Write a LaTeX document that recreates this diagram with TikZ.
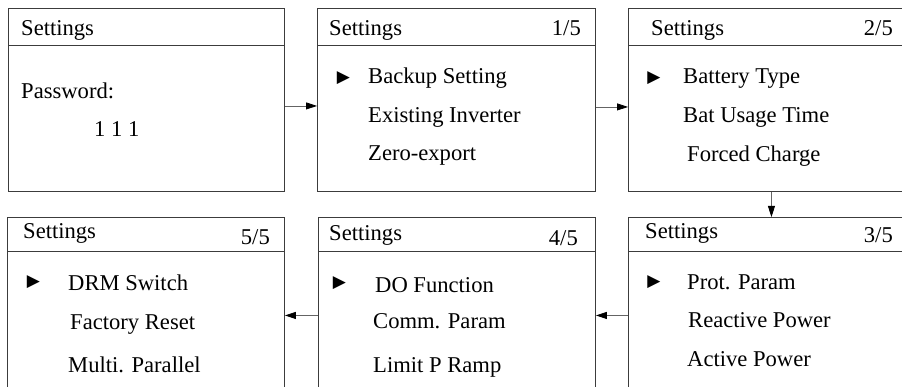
\documentclass[tikz,border=0pt]{standalone}
\usepackage{fontspec}
\setmainfont{Liberation Serif}
\newfontfamily\markfont{DejaVu Sans}
\usepackage{tikz}
\usetikzlibrary{positioning, arrows.meta, calc}
\definecolor{framegray}{RGB}{60,60,60}
\definecolor{linkgray}{RGB}{100,100,100}
\tikzset{
  screen/.style={
    draw=framegray, line width=0.9pt, fill=white,
    anchor=north west, inner sep=0pt
  },
  toprow/.style={screen, minimum height=183pt},
  lowrow/.style={screen, minimum height=196pt},
  label/.style={anchor=base west, inner sep=0pt, font=\fontsize{22.6}{27}\selectfont},
  pagenum/.style={anchor=base east, inner sep=0pt, font=\fontsize{22.6}{27}\selectfont},
  pointer/.style={inner sep=0pt, font=\markfont\fontsize{17}{20}\selectfont},
  link/.style={-{Triangle[length=11pt, width=7pt, color=black]}, line width=0.8pt, linkgray}
}

\begin{document}
\begin{tikzpicture}[x=1pt, y=1pt]
  \useasboundingbox (0,0) rectangle (902,386);
  % upper row
  \node[toprow, minimum width=276pt] (pw) at (8,378) {};
  \node[toprow, minimum width=278pt] (s1) at (317,378) {};
  \node[toprow, minimum width=286pt] (s2) at (628,378) {};
  % lower row
  \node[lowrow, minimum width=286pt] (s3) at (628,169) {};
  \node[lowrow, minimum width=277pt] (s4) at (318,169) {};
  \node[lowrow, minimum width=277pt] (s5) at (7,169) {};
  % title bars
  \foreach \s in {pw, s1, s2}
    \draw[framegray, line width=0.9pt] ($(\s.north west)+(0,-37)$) -- ($(\s.north east)+(0,-37)$);
  \foreach \s in {s3, s4, s5}
    \draw[framegray, line width=0.9pt] ($(\s.north west)+(0,-34)$) -- ($(\s.north east)+(0,-34)$);

  % password screen
  \node[label] (pwtitle) at (21,350) {Settings};
  \node[label] (pwtext) at (21,287) {Password:};
  \node[label] (pwcode) at (94,249) {1 1 1};

  % 1/5
  \node[label] (t1) at (329,350) {Settings};
  \node[pagenum] (n1) at (581,350) {1/5};
  \node[pointer] (p1) at (343.5,308) {▶};
  \node[label] (a1) at (368,302) {Backup Setting};
  \node[label] (b1) at (368,263) {Existing Inverter};
  \node[label] (c1) at (368,225) {Zero-export};

  % 2/5
  \node[label] (t2) at (651,350) {Settings};
  \node[pagenum] (n2) at (893,350) {2/5};
  \node[pointer] (p2) at (654,308) {▶};
  \node[label] (a2) at (683,302) {Battery Type};
  \node[label] (b2) at (683,263) {Bat Usage Time};
  \node[label] (c2) at (687,224) {Forced Charge};

  % 3/5
  \node[label] (t3) at (645,147) {Settings};
  \node[pagenum] (n3) at (893,143) {3/5};
  \node[pointer] (p3) at (654,104) {▶};
  \node[label] (a3) at (687,97) {Prot. Param};
  \node[label] (b3) at (688,59) {Reactive Power};
  \node[label] (c3) at (687,20) {Active Power};

  % 4/5
  \node[label] (t4) at (329,146) {Settings};
  \node[pagenum] (n4) at (578,141) {4/5};
  \node[pointer] (p4) at (339.5,103) {▶};
  \node[label] (a4) at (375,94) {DO Function};
  \node[label] (b4) at (373,58) {Comm. Param};
  \node[label] (c4) at (373,14) {Limit P Ramp};

  % 5/5
  \node[label] (t5) at (23,147) {Settings};
  \node[pagenum] (n5) at (270,142) {5/5};
  \node[pointer] (p5) at (33.5,104) {▶};
  \node[label] (a5) at (68,96) {DRM Switch};
  \node[label] (b5) at (70,57) {Factory Reset};
  \node[label] (c5) at (68,14) {Multi. Parallel};

  % links
  \draw[link] ([yshift=-6pt]pw.east) -- ([yshift=-6pt]s1.west);
  \draw[link] ([yshift=-7pt]s1.east) -- ([yshift=-7pt]s2.west);
  \draw[link] (s2.south) -- (s3.north);
  \draw[link] (s3.west) -- (s4.east);
  \draw[link] (s4.west) -- (s5.east);
\end{tikzpicture}
\end{document}
